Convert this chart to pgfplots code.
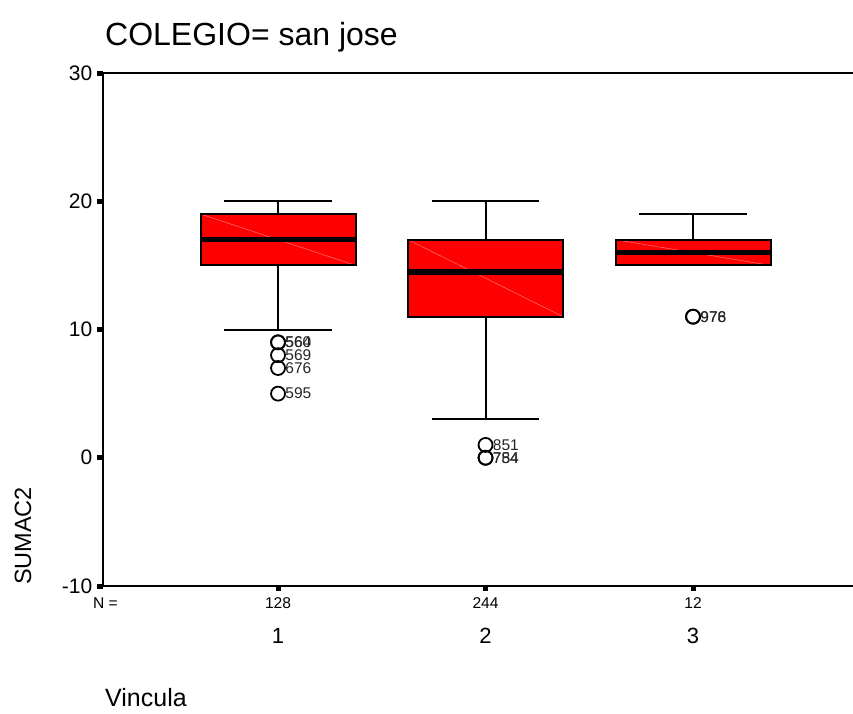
\documentclass[border=0pt]{standalone}
\usepackage{fontspec}
\setmainfont{Liberation Sans}
\usepackage{pgfplots}
\pgfplotsset{compat=1.18}
\usepgfplotslibrary{statistics}

\definecolor{boxred}{RGB}{255,0,0}
\definecolor{streak}{RGB}{255,120,120}

\begin{document}
\begin{tikzpicture}
\path[use as bounding box] (-102.5pt,-127pt) rectangle (750.5pt,586pt);
\begin{axis}[
  scale only axis, width=750.5pt, height=513pt,
  at={(0pt,0pt)}, anchor=south west,
  xmin=0.154, xmax=3.771, ymin=-10, ymax=30,
  axis line style={draw=none},
  ytick={-10,0,10,20,30},
  xtick={1,2,3}, xticklabels={},
  tick align=outside, major tick length=5pt,
  tick style={line width=5pt, black},
  xtick pos=left, ytick pos=left,
  minor tick num=0,
  /pgf/number format/assume math mode=true,
  yticklabel style={font=\fontsize{21}{21}\selectfont, anchor=east, inner sep=0pt, xshift=-5pt},
  clip=false,
  boxplot/draw direction=y,
  boxplot/box extend=0.747,
  boxplot/whisker extend=0.52,
  boxplot/every box/.style={draw=black, line width=2pt, fill=boxred,
    path picture={\draw[streak, line width=0.5pt] (path picture bounding box.north west) -- (path picture bounding box.south east);}},
  boxplot/every whisker/.style={draw=black, line width=2pt},
  boxplot/every median/.style={draw=black, line width=5.5pt},
]
% frame: left, top and bottom sides
\draw[line width=2pt] (rel axis cs:1,1) -- (rel axis cs:0,1) -- (rel axis cs:0,0) -- (rel axis cs:1,0);

\addplot[line width=2pt, boxplot prepared={draw position=1, lower whisker=10, lower quartile=15,
  median=17, upper quartile=19, upper whisker=20}] coordinates {};
\addplot[line width=2pt, boxplot prepared={draw position=2, lower whisker=3, lower quartile=11,
  median=14.5, upper quartile=17, upper whisker=20}] coordinates {};
\addplot[line width=2pt, boxplot prepared={draw position=3, lower whisker=15, lower quartile=15,
  median=16, upper quartile=17, upper whisker=19}] coordinates {};

% outliers with their case numbers
\addplot[only marks, mark=o, mark size=7pt, mark options={line width=1.8pt, draw=black},
  nodes near coords, point meta=explicit symbolic,
  nodes near coords style={anchor=west, inner sep=0pt, xshift=6.5pt, text=black!85,
    font=\fontsize{15.5}{15.5}\selectfont}]
  table[meta=id] {
x y id
1 9 560
1 9 564
1 8 569
1 7 676
1 5 595
2 1 851
2 0 754
2 0 784
3 11 976
3 11 978
};

% group sizes and category names
\node[font=\fontsize{15.6}{15.6}\selectfont, yshift=-17pt] at (axis cs:1,-10) {128};
\node[font=\fontsize{15.6}{15.6}\selectfont, yshift=-17pt] at (axis cs:2,-10) {244};
\node[font=\fontsize{15.6}{15.6}\selectfont, yshift=-17pt] at (axis cs:3,-10) {12};
\node[font=\fontsize{22}{22}\selectfont, yshift=-50pt] at (axis cs:1,-10) {1};
\node[font=\fontsize{22}{22}\selectfont, yshift=-50pt] at (axis cs:2,-10) {2};
\node[font=\fontsize{22}{22}\selectfont, yshift=-50pt] at (axis cs:3,-10) {3};
\end{axis}

\node[font=\fontsize{15.6}{15.6}\selectfont] at (3pt,-17pt) {N =};
\node[font=\fontsize{32}{32}\selectfont, anchor=base west, inner sep=0pt] at (2.5pt,540pt) {COLEGIO= san jose};
\node[font=\fontsize{23.5}{23.5}\selectfont, rotate=90] at (-79.5pt,50pt) {SUMAC2};
\node[font=\fontsize{25}{25}\selectfont, anchor=base west, inner sep=0pt] at (2.5pt,-120.5pt) {Vincula};
\end{tikzpicture}
\end{document}
